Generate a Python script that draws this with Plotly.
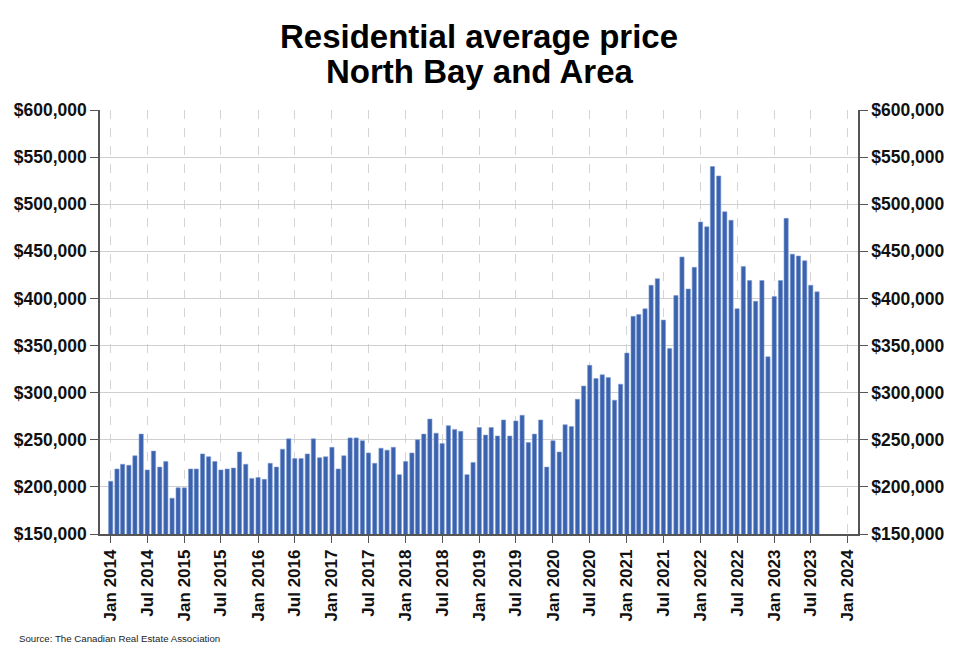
import plotly.graph_objects as go
import pandas as pd

# Monthly residential average price (thousands of dollars), Jan 2014 - Aug 2023
prices_2014 = [206, 219, 224, 223, 233, 256, 218, 238, 221, 227, 188, 199]
prices_2015 = [199, 219, 219, 235, 232, 227, 218, 219, 220, 237, 224, 209]
prices_2016 = [210, 208, 225, 221, 240, 251, 230, 230, 235, 251, 231, 232]
prices_2017 = [242, 219, 233, 252, 252, 249, 236, 225, 241, 239, 242, 213]
prices_2018 = [227, 236, 250, 256, 272, 257, 246, 265, 261, 259, 213, 226]
prices_2019 = [263, 255, 263, 254, 271, 254, 270, 276, 247, 256, 271, 221]
prices_2020 = [249, 237, 266, 264, 293, 307, 329, 315, 319, 316, 292, 309]
prices_2021 = [342, 381, 383, 389, 414, 421, 377, 347, 403, 444, 410, 433]
prices_2022 = [481, 476, 540, 530, 492, 483, 389, 434, 419, 397, 419, 338]
prices_2023 = [402, 419, 485, 447, 445, 440, 414, 407]

all_prices_k = (prices_2014 + prices_2015 + prices_2016 + prices_2017 + prices_2018 +
                prices_2019 + prices_2020 + prices_2021 + prices_2022 + prices_2023)
prices = [v * 1000 for v in all_prices_k]
months = pd.date_range("2014-01-01", periods=len(prices), freq="MS")

title_line1 = "Residential average price"
title_line2 = "North Bay and Area"
source_text = "Source: The Canadian Real Estate Association"

FONT = "Liberation Sans, Arial, Helvetica, sans-serif"
BAR_COLOR = "#3a62ae"

# page has an 8px body margin; layout below is compensated for it
L, R, T, B = 92, 110, 102, 121
PH = 647 - T - B

fig = go.Figure()
fig.add_trace(go.Bar(
    x=months, y=prices,
    width=21 * 86400000,
    marker=dict(color=BAR_COLOR, line=dict(color="#7d9ad2", width=0.6)),
    showlegend=False,
))
# invisible trace to anchor the right-hand axis
fig.add_trace(go.Scatter(x=[months[0]], y=[None], yaxis="y2", mode="markers",
                         showlegend=False, hoverinfo="skip"))

yaxis_common = dict(
    range=[150000, 600000],
    dtick=50000,
    tickprefix="$",
    tickformat=",",
    ticks="outside",
    ticklen=8,
    tickcolor="#555555",
    showline=True,
    linecolor="#555555",
    linewidth=1.5,
    tickfont=dict(family=FONT, size=17.5, color="#111111", weight="bold"),
    zeroline=False,
    automargin=False,
)

def py(fig_y):
    return (647 - B - fig_y) / PH

fig.update_layout(
    width=960, height=647,
    autosize=False,
    paper_bgcolor="white", plot_bgcolor="white",
    margin=dict(l=L, r=R, t=T, b=B, pad=0),
    xaxis=dict(
        type="date",
        range=["2013-11-09", "2024-02-20"],
        tick0="2014-01-01", dtick="M6", tickformat="%b %Y",
        tickangle=-90,
        ticks="outside", ticklen=7, tickcolor="#555555",
        showline=True, linecolor="#555555", linewidth=1.5,
        showgrid=True, gridcolor="#d4d4d4", griddash="dash", gridwidth=1,
        tickfont=dict(family=FONT, size=17, color="#111111", weight="bold"),
        zeroline=False,
        automargin=False,
    ),
    yaxis=dict(showgrid=True, gridcolor="#cfcfcf", gridwidth=1, side="left", **yaxis_common),
    yaxis2=dict(overlaying="y", side="right", showgrid=False, **yaxis_common),
    annotations=[
        dict(text=title_line1, xref="paper", yref="paper", x=0.5, y=py(29),
             xanchor="center", yanchor="middle", showarrow=False,
             font=dict(family=FONT, size=33, color="#000000", weight="bold")),
        dict(text=title_line2, xref="paper", yref="paper", x=0.5, y=py(63.5),
             xanchor="center", yanchor="middle", showarrow=False,
             font=dict(family=FONT, size=33, color="#000000", weight="bold")),
        dict(text=source_text, xref="paper", yref="paper",
             x=(9 - L) / 758, y=py(630),
             xanchor="left", yanchor="middle", showarrow=False,
             font=dict(family=FONT, size=9.7, color="#222222")),
    ],
)

fig.write_html("out.html")
